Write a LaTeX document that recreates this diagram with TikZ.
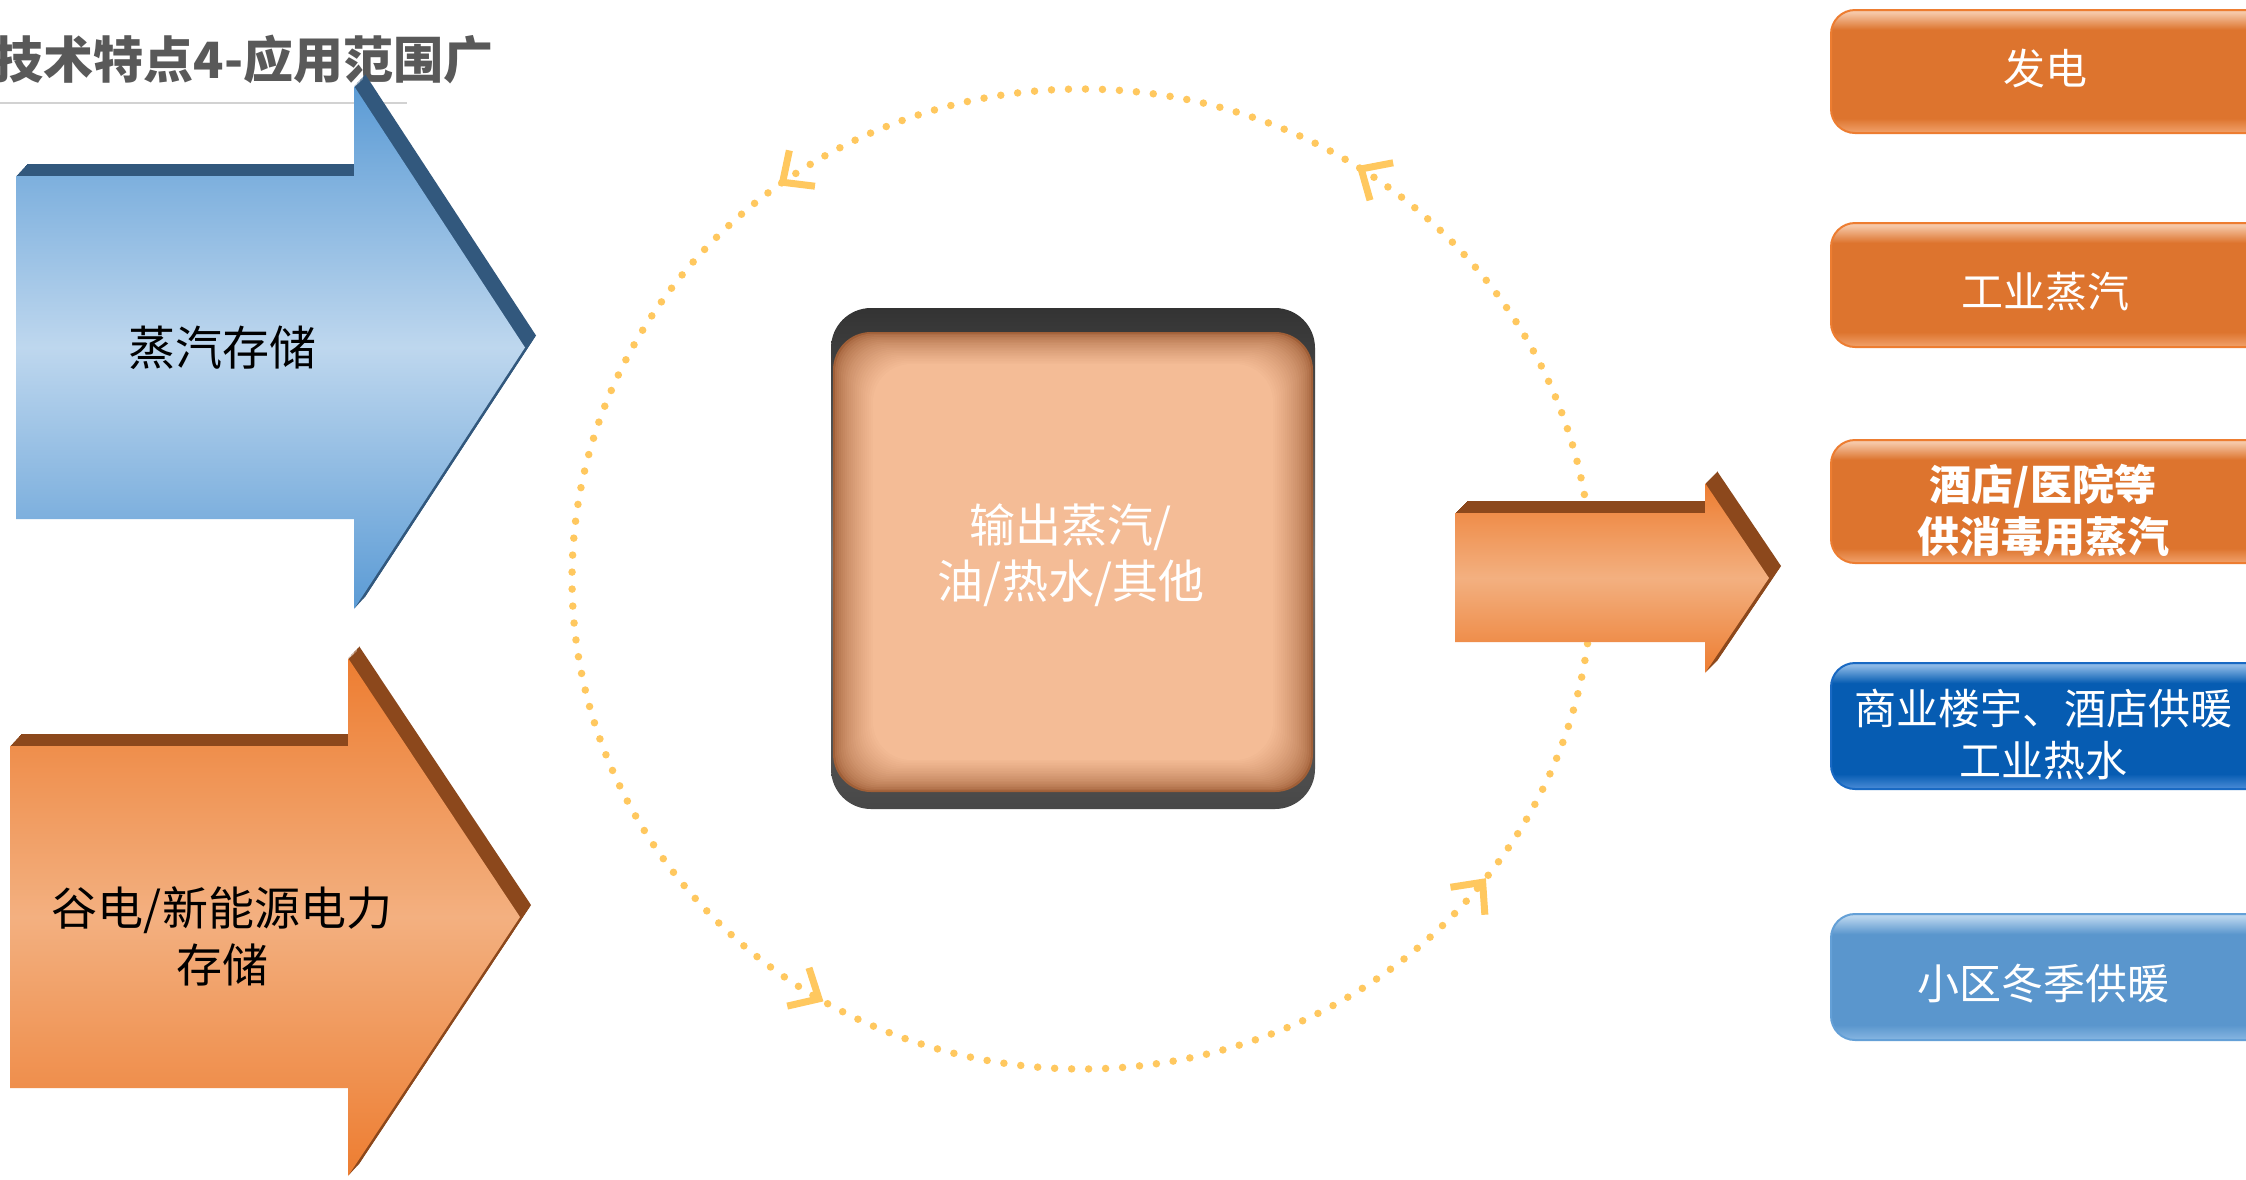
\documentclass[tikz,border=0pt]{standalone}
\usepackage{fontspec}
\setmainfont{Noto Sans CJK SC}
\usetikzlibrary{arrows.meta,decorations.markings}
\definecolor{blueTop}{RGB}{91,155,213}
\definecolor{blueMid}{RGB}{190,215,238}
\definecolor{blueDark}{RGB}{50,88,125}
\definecolor{orTop}{RGB}{237,125,49}
\definecolor{orMid}{RGB}{243,176,128}
\definecolor{orDark}{RGB}{140,72,28}
\definecolor{peach}{RGB}{244,188,150}
\definecolor{peachEdge}{RGB}{160,95,55}
\definecolor{dotc}{RGB}{255,200,95}
\definecolor{titlegray}{RGB}{89,89,89}
\definecolor{linegray}{RGB}{210,210,210}
\definecolor{obT}{RGB}{246,200,168}
\definecolor{obM}{RGB}{221,116,46}
\definecolor{obB}{RGB}{241,162,108}
\definecolor{obBorder}{RGB}{237,125,49}
\definecolor{dbT}{RGB}{140,185,230}
\definecolor{dbM}{RGB}{6,92,178}
\definecolor{dbB}{RGB}{75,140,215}
\definecolor{dbBorder}{RGB}{25,105,195}
\definecolor{lbT}{RGB}{185,213,238}
\definecolor{lbM}{RGB}{90,150,205}
\definecolor{lbB}{RGB}{135,182,226}
\definecolor{lbBorder}{RGB}{100,160,215}
\pgfdeclareverticalshading{orbox}{100bp}{color(0bp)=(obB); color(25bp)=(obB); color(31bp)=(obM); color(67bp)=(obM); color(74bp)=(obT); color(100bp)=(obT)}
\pgfdeclareverticalshading{dbbox}{100bp}{color(0bp)=(dbB); color(25bp)=(dbB); color(31bp)=(dbM); color(67bp)=(dbM); color(74bp)=(dbT); color(100bp)=(dbT)}
\pgfdeclareverticalshading{lbbox}{100bp}{color(0bp)=(lbB); color(25bp)=(lbB); color(31bp)=(lbM); color(67bp)=(lbM); color(74bp)=(lbT); color(100bp)=(lbT)}
\newcommand\setfsz[2]{\fontsize{#1}{#2}\selectfont}
\newcommand\bluearrowpath{(16,176) -- (354,176) -- (354,86) -- (525,347.5) -- (354,609) -- (354,519) -- (16,519) -- cycle}
\newcommand\orarrowpath{(10,746) -- (348,746) -- (348,658) -- (520,917) -- (348,1176) -- (348,1088) -- (10,1088) -- cycle}
\newcommand\midarrowpath{(1455,513) -- (1705,513) -- (1705,483) -- (1769,578) -- (1705,673) -- (1705,642) -- (1455,642) -- cycle}
\begin{document}
\begin{tikzpicture}[x=1pt,y=-1pt,
  every node/.style={inner sep=0pt, outer sep=0pt, align=center},
  blacklbl/.style={text=black, font=\setfsz{47}{57}},
  whitelbl/.style={text=white, font=\setfsz{46}{56}},
  boxlbl/.style={text=white, font=\setfsz{42}{52}},
  dotring/.style={draw=dotc, line width=7.5pt, line cap=round, dash pattern=on 0pt off 17pt},
  rbox/.style={rounded corners=24pt, line width=2pt}]
\useasboundingbox (0,0) rectangle (2246,1179);
\clip (0,0) rectangle (2246,1179);
\fill[white] (0,0) rectangle (2246,1179);

% title
\node[anchor=west, text=titlegray, font=\bfseries\setfsz{50}{56}] (title) at (-6,60) {技术特点4-应用范围广};
\draw[linegray, line width=2pt] (0,103) -- (407,103);

% dotted ring with arrowheads
\draw[dotring, postaction={decorate, decoration={markings,
   mark=at position 0.158 with {\arrow[dotc]{Straight Barb[length=24pt,width=44pt,line width=7pt]}},
   mark=at position 0.353 with {\arrow[dotc]{Straight Barb[length=24pt,width=44pt,line width=7pt]}},
   mark=at position 0.664 with {\arrow[dotc]{Straight Barb[length=24pt,width=44pt,line width=7pt]}},
   mark=at position 0.897 with {\arrow[dotc]{Straight Barb[length=24pt,width=44pt,line width=7pt]}}}}]
  plot[domain=0:360, samples=181, smooth] ({1082+510*cos(\x)},{579-490*sin(\x)});

% blue input arrow
\foreach \k in {1,...,12} \fill[blueDark, shift={({\k*11/12},{-\k})}] \bluearrowpath;
\shade[top color=blueTop, bottom color=blueTop, middle color=blueMid] \bluearrowpath;
\node[blacklbl] (steam) at (222,348) {蒸汽存储};

% orange input arrow
\foreach \k in {1,...,12} \fill[orDark, shift={({\k*11/12},{-\k})}] \orarrowpath;
\shade[top color=orTop, bottom color=orTop, middle color=orMid] \orarrowpath;
\node[blacklbl, font=\setfsz{46}{57}] (power) at (222,936) {谷电/新能源电力\\存储};

% centre box
\shade[rounded corners=40pt, top color=black!80, bottom color=black!72, middle color=black!55] (831,308) rectangle (1315,809);
\fill[peachEdge, rounded corners=38pt] (833,332) rectangle (1313,792);
\foreach \k in {2,4,...,40} {
  \pgfmathsetmacro\p{100*(\k/40)^0.6}
  \fill[peach!\p!peachEdge, rounded corners=38pt] ({833+\k},{332+\k*0.8}) rectangle ({1313-\k},{792-\k*0.8});
}
\node[whitelbl] (core) at (1071,555) {输出蒸汽/\\油/热水/其他};

% output arrow
\foreach \k in {1,...,12} \fill[orDark, shift={(\k,{-\k})}] \midarrowpath;
\shade[top color=orTop, bottom color=orTop, middle color=orMid] \midarrowpath;

% right boxes
\shade[rbox, shading=orbox, draw=obBorder] (1831,10) rectangle (2290,133);
\node[boxlbl] (b1) at (2045,69) {发电};
\shade[rbox, shading=orbox, draw=obBorder] (1831,223) rectangle (2290,347);
\node[boxlbl] (b2) at (2045,292) {工业蒸汽};
\shade[rbox, shading=orbox, draw=obBorder] (1831,440) rectangle (2290,563);
\node[boxlbl, font=\bfseries\setfsz{42}{52}] (b3) at (2043,510) {酒店/医院等\\供消毒用蒸汽};
\shade[rbox, shading=dbbox, draw=dbBorder] (1831,663) rectangle (2290,789);
\node[boxlbl] (b4) at (2043,735) {商业楼宇、酒店供暖\\工业热水};
\shade[rbox, shading=lbbox, draw=lbBorder] (1831,914) rectangle (2290,1040);
\node[boxlbl] (b5) at (2043,984) {小区冬季供暖};
\end{tikzpicture}
\end{document}
